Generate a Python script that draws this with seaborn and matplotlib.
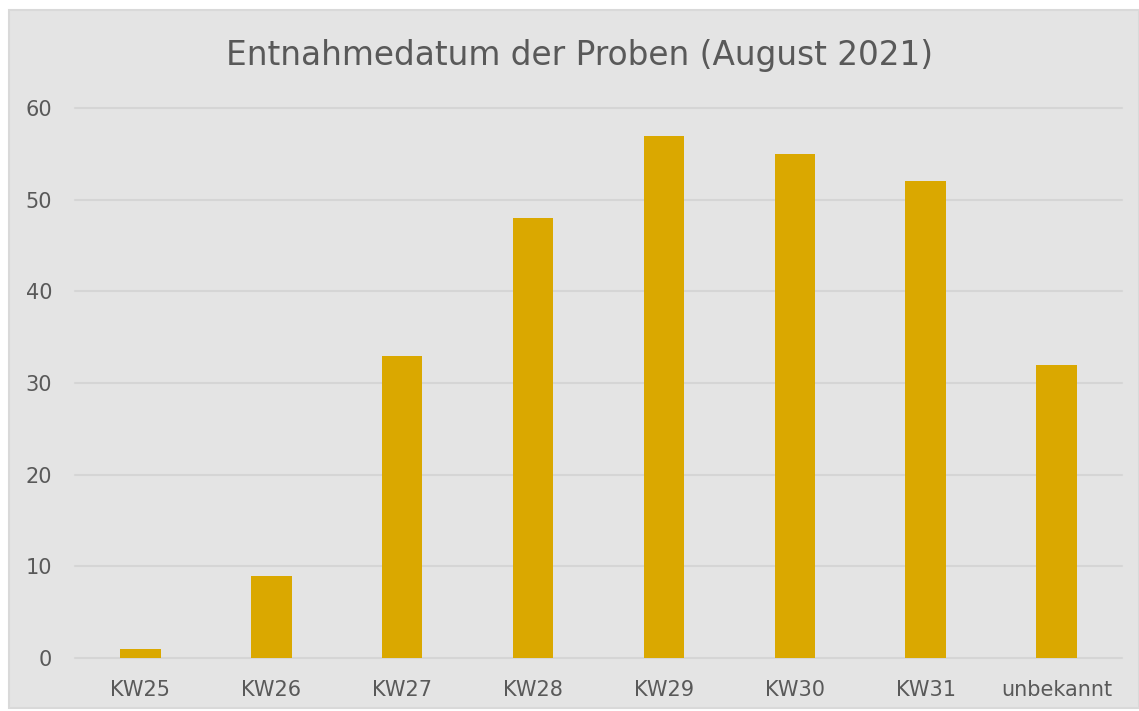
import matplotlib
matplotlib.use("Agg")
import matplotlib.pyplot as plt
import seaborn as sns
import pandas as pd
from matplotlib.patches import Rectangle

categories = ["KW25", "KW26", "KW27", "KW28", "KW29", "KW30", "KW31", "unbekannt"]
values = [1, 9, 33, 48, 57, 55, 52, 32]
yticks = [0, 10, 20, 30, 40, 50, 60]
title = "Entnahmedatum der Proben (August 2021)"

df = pd.DataFrame({"Woche": categories, "Anzahl": values})

sns.set_theme(style="white")
plt.rcParams["font.family"] = ["DejaVu Sans"]

W, H = 1139, 711
fig = plt.figure(figsize=(W / 100, H / 100), dpi=100)
fig.patch.set_facecolor("white")
bg = "#e4e4e4"
fig.patches.append(Rectangle((9 / W, 3 / H), 1 - 9 / W, (708 - 10) / H,
                             transform=fig.transFigure, facecolor=bg,
                             edgecolor="#d9d9d9", linewidth=1.5, zorder=-5))

ax = fig.add_axes([75 / W, (H - 658) / H, (1122 - 75) / W, (658 - 108) / H])
ax.set_facecolor("none")
sns.barplot(data=df, x="Woche", y="Anzahl", color="#daa800", saturation=1,
            width=0.31, ax=ax, zorder=3, edgecolor="#daa800", linewidth=0)
ax.set_ylim(0, 60)
ax.set_yticks(yticks)
ax.set_xlim(-0.5, len(categories) - 0.5)
ax.yaxis.grid(True, color="#d5d5d5", linewidth=1.5, zorder=0)
for gl in ax.get_ygridlines():
    gl.set_clip_on(False)
ax.set_axisbelow(True)
for s in ax.spines.values():
    s.set_visible(False)
ax.set_xlabel("")
ax.set_ylabel("")
ax.tick_params(axis="both", length=0, labelsize=15, colors="#595959")
ax.tick_params(axis="y", pad=16.5)
ax.tick_params(axis="x", pad=16)

fig.text(580 / W, 1 - 55 / H, title, ha="center", va="center",
         fontsize=23.6, color="#595959")

fig.savefig("out.png", dpi=100, facecolor=fig.get_facecolor())
